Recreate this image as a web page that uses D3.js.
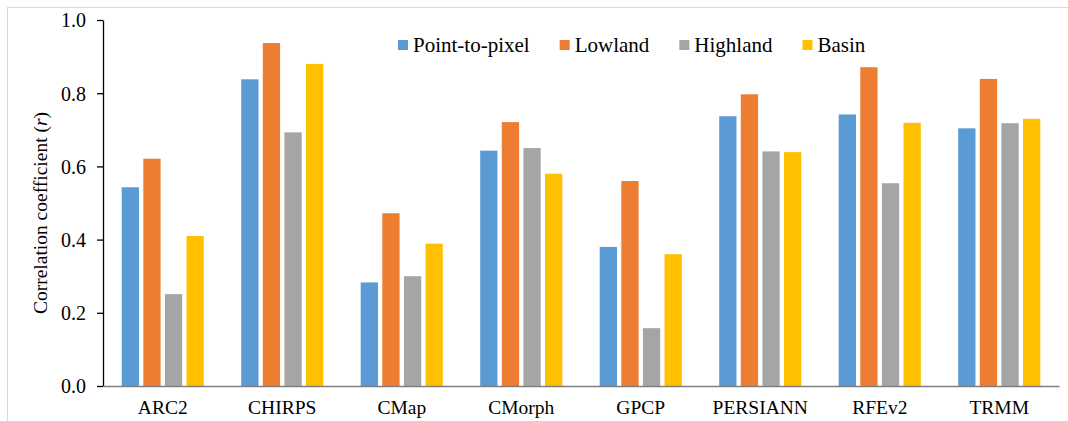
<!DOCTYPE html>
<html>
<head>
<meta charset="utf-8">
<script src="https://cdn.jsdelivr.net/npm/d3@7"></script>
<style>
  html, body { margin: 0; padding: 0; background: #fff; }
  svg { display: block; font-family: "Liberation Serif", serif; }
</style>
</head>
<body>
<svg id="chart" width="1068" height="421" font-family="Liberation Serif, serif"></svg>
<script>
const categories = ["ARC2", "CHIRPS", "CMap", "CMorph", "GPCP", "PERSIANN", "RFEv2", "TRMM"];
const seriesNames = ["Point-to-pixel", "Lowland", "Highland", "Basin"];
const pointToPixel = [0.543, 0.838, 0.283, 0.643, 0.380, 0.737, 0.742, 0.704];
const lowland      = [0.621, 0.937, 0.472, 0.721, 0.560, 0.797, 0.871, 0.839];
const highland     = [0.251, 0.693, 0.300, 0.650, 0.158, 0.641, 0.554, 0.718];
const basin        = [0.410, 0.880, 0.389, 0.580, 0.360, 0.639, 0.719, 0.730];
const yTicks = [0.0, 0.2, 0.4, 0.6, 0.8, 1.0];
const colors = ["#5B9BD5", "#ED7D31", "#A5A5A5", "#FFC000"];

const FONT = "Liberation Serif, serif";
const seriesValues = [pointToPixel, lowland, highland, basin];
const rows = categories.map((c, i) => ({
  cat: c,
  vals: seriesNames.map((s, k) => ({ key: s, k, v: seriesValues[k][i] }))
}));

const svg = d3.select("#chart");
const mLeft = 103, mRight = 1059, mTop = 20, mBottom = 386;

// outer frame (partly visible)
svg.append("rect").attr("x", 7.5).attr("y", 7.5).attr("width", 1080).attr("height", 440)
  .attr("fill", "none").attr("stroke", "#d9d9d9").attr("stroke-width", 1);

const x0 = d3.scaleBand().domain(categories).range([mLeft, mRight])
  .paddingInner(0.313).paddingOuter(0.1565);
const x1 = d3.scaleBand().domain(seriesNames).range([0, x0.bandwidth()])
  .paddingInner(0.2).paddingOuter(0);
const y = d3.scaleLinear().domain([0, 1]).range([mBottom, mTop]);

// bars
const g = svg.append("g");
g.selectAll("g.cat").data(rows).join("g").attr("class", "cat")
  .attr("transform", d => `translate(${x0(d.cat)},0)`)
  .selectAll("rect").data(d => d.vals).join("rect")
  .attr("x", d => x1(d.key))
  .attr("y", d => y(d.v))
  .attr("width", x1.bandwidth())
  .attr("height", d => y(0) - y(d.v))
  .attr("fill", d => colors[d.k]);

// y axis
const yAxis = d3.axisLeft(y).tickValues(yTicks).tickFormat(d3.format(".1f")).tickSize(6).tickSizeOuter(0);
const ya = svg.append("g").attr("transform", `translate(${mLeft},0)`).call(yAxis)
  .attr("font-family", FONT).attr("font-size", 20);
ya.select(".domain").attr("stroke", "#000").attr("stroke-width", 1.3);
ya.selectAll(".tick line").attr("stroke", "#000").attr("stroke-width", 1.3);
ya.selectAll(".tick text").attr("fill", "#000").attr("x", -17).attr("dy", "0.34em");

// x axis
const xAxis = d3.axisBottom(x0).tickSize(0).tickSizeOuter(0);
const xa = svg.append("g").attr("transform", `translate(0,${mBottom})`).call(xAxis)
  .attr("font-family", FONT).attr("font-size", 19.5);
xa.select(".domain").attr("stroke", "#7f7f7f").attr("stroke-width", 1.6);
xa.selectAll(".tick text").attr("fill", "#000").attr("y", 14).attr("dy", "0.71em");

// y title
const yt = svg.append("text")
  .attr("transform", `translate(47,${(mTop + mBottom) / 2 + 10}) rotate(-90)`)
  .attr("text-anchor", "middle").attr("font-family", FONT).attr("font-size", 19.5).attr("fill", "#000");
yt.append("tspan").text("Correlation coefficient (");
yt.append("tspan").attr("font-style", "italic").text("r");
yt.append("tspan").text(")");

// legend
const lg = svg.append("g").attr("transform", "translate(398,0)");
let cx = 0;
seriesNames.forEach((s, k) => {
  const item = lg.append("g").attr("transform", `translate(${cx},0)`);
  item.append("rect").attr("x", 0).attr("y", 40).attr("width", 10).attr("height", 10).attr("fill", colors[k]);
  const t = item.append("text").attr("x", 15).attr("y", 52)
    .attr("font-family", FONT).attr("font-size", 21).attr("fill", "#000").text(s);
  cx += 15 + t.node().getComputedTextLength() + 30;
});
</script>
</body>
</html>
